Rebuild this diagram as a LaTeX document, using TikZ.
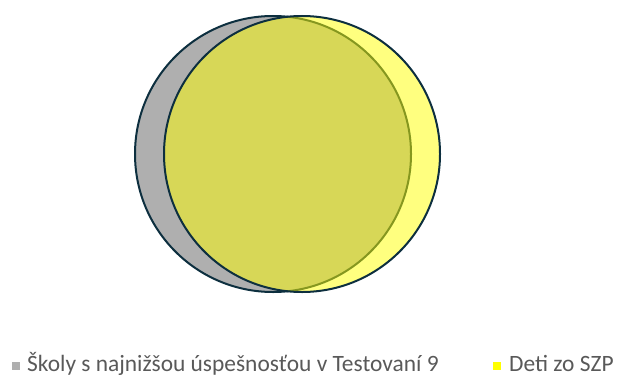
\documentclass[tikz,border=0pt]{standalone}
\usepackage{fontspec}
\setmainfont{Carlito}
\usetikzlibrary{positioning}

\definecolor{ringline}{HTML}{0D2F3F}
\definecolor{schoolgray}{HTML}{AFAFAF}
\definecolor{szpyellow}{HTML}{FFFF00}
\definecolor{legendtext}{HTML}{595959}

\begin{document}
\begin{tikzpicture}[
  x=1bp, y=1bp,
  set/.style={circle,draw=ringline,line width=2bp,minimum size=276bp,inner sep=0pt},
  key/.style={minimum size=8bp,inner sep=0pt},
  lbl/.style={text=legendtext,font=\fontsize{23.5}{26}\selectfont,inner sep=0pt,anchor=base west}
]
\useasboundingbox (0,0) rectangle (618,378);
% the two sets
\node[set,fill=schoolgray] (skoly) at (273,224) {};
\node[set,fill=szpyellow,fill opacity=0.5] (deti) at (302,224) {};

% legend
\node[key,fill=schoolgray] (kskoly) at (15.5,12.5) {};
\node[lbl] (tskoly) at (27,6.5) {Školy s najnižšou úspešnosťou v Testovaní 9};
\node[key,fill=szpyellow] (kdeti) at (497,12.5) {};
\node[lbl] (tdeti) at (509,6.5) {Deti zo SZP};
\end{tikzpicture}
\end{document}
